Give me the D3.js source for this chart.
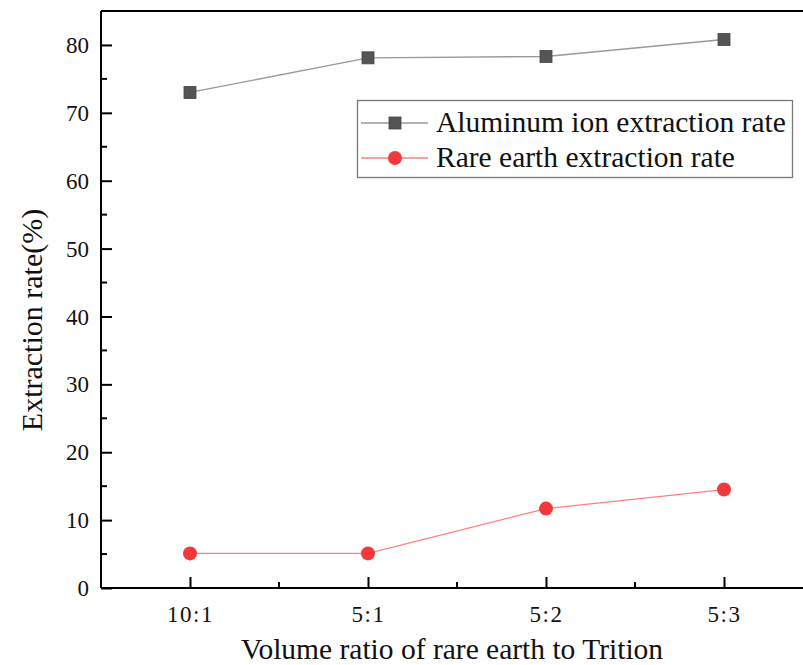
<!DOCTYPE html>
<html>
<head>
<meta charset="utf-8">
<script src="https://cdn.jsdelivr.net/npm/d3@7"></script>
<style>
  html, body { margin: 0; padding: 0; background: #fff; }
  svg { display: block; }
  text { font-family: "Liberation Serif", "DejaVu Serif", serif; fill: #111; }
</style>
</head>
<body>
<svg id="chart" width="803" height="665"></svg>
<script>
// Extraction rates for each volume ratio
const ratios = ["10:1", "5:1", "5:2", "5:3"];
const aluminumRate = [73.0, 78.1, 78.3, 80.8];
const rareEarthRate = [5.1, 5.1, 11.7, 14.5];
const yTicks = [0, 10, 20, 30, 40, 50, 60, 70, 80];
const seriesNames = ["Aluminum ion extraction rate", "Rare earth extraction rate"];

const serif = "'Liberation Serif', 'DejaVu Serif', serif";
const svg = d3.select("#chart");
const plotLeft = 101, plotTop = 11, plotBottom = 588, plotRight = 813;

const x = d3.scaleLinear().domain([0.5, 4.5]).range([plotLeft, plotRight]);
const y = d3.scaleLinear().domain([0, 85]).range([plotBottom, plotTop]);

// frame top line
svg.append("line")
  .attr("x1", plotLeft).attr("x2", 803).attr("y1", plotTop).attr("y2", plotTop)
  .attr("stroke", "#000").attr("stroke-width", 2);

// y axis
const yAxis = d3.axisRight(y).tickValues(yTicks).tickSize(11).tickFormat(d3.format("d"));
const gy = svg.append("g").attr("transform", `translate(${plotLeft},0)`).call(yAxis)
  .attr("font-family", serif).attr("font-size", 23);
gy.select(".domain").attr("stroke", "#000").attr("stroke-width", 2).attr("d", `M0,${plotBottom}V${plotTop}`);
gy.selectAll(".tick line").attr("stroke", "#000").attr("stroke-width", 2);
gy.selectAll(".tick text")
  .attr("x", -12).attr("dy", "0.33em").attr("text-anchor", "end")
  .style("font-family", serif).style("font-size", "23px");
const yMinor = d3.range(5, 85, 10);
svg.append("g").selectAll("line").data(yMinor).join("line")
  .attr("x1", plotLeft).attr("x2", plotLeft + 6)
  .attr("y1", d => y(d)).attr("y2", d => y(d))
  .attr("stroke", "#000").attr("stroke-width", 2);

// x axis
const xAxis = d3.axisTop(x).tickValues([1, 2, 3, 4]).tickSize(11).tickFormat((d, i) => ratios[i]);
const gx = svg.append("g").attr("transform", `translate(0,${plotBottom})`).call(xAxis)
  .attr("font-family", serif).attr("font-size", 23);
gx.select(".domain").attr("stroke", "#000").attr("stroke-width", 2).attr("d", `M${plotLeft},0H803`);
gx.selectAll(".tick line").attr("stroke", "#000").attr("stroke-width", 2);
gx.selectAll(".tick text")
  .attr("y", 34).attr("dy", "0").attr("text-anchor", "middle")
  .style("font-family", serif).style("font-size", "23px").style("letter-spacing", "1.5px");
svg.append("g").selectAll("line").data([1.5, 2.5, 3.5]).join("line")
  .attr("x1", d => x(d)).attr("x2", d => x(d))
  .attr("y1", plotBottom).attr("y2", plotBottom - 6)
  .attr("stroke", "#000").attr("stroke-width", 2);

// axis titles
svg.append("text")
  .attr("x", 452).attr("y", 659).attr("text-anchor", "middle")
  .style("font-size", "29.5px")
  .text("Volume ratio of rare earth to Trition");
svg.append("text")
  .attr("transform", "translate(42,320) rotate(-90)")
  .attr("text-anchor", "middle")
  .style("font-size", "30px")
  .text("Extraction rate(%)");

// series
const line = d3.line().x((d, i) => x(i + 1)).y(d => y(d));
svg.append("path").datum(aluminumRate).attr("d", line)
  .attr("fill", "none").attr("stroke", "#9a9a9a").attr("stroke-width", 1.3);
svg.append("path").datum(rareEarthRate).attr("d", line)
  .attr("fill", "none").attr("stroke", "#ff8080").attr("stroke-width", 1.3);

const sq = 12;
svg.append("g").selectAll("rect").data(aluminumRate).join("rect")
  .attr("x", (d, i) => x(i + 1) - sq / 2).attr("y", d => y(d) - sq / 2)
  .attr("width", sq).attr("height", sq)
  .attr("fill", "#555").attr("stroke", "#444").attr("stroke-width", 0.8);
svg.append("g").selectAll("circle").data(rareEarthRate).join("circle")
  .attr("cx", (d, i) => x(i + 1)).attr("cy", d => y(d)).attr("r", 7)
  .attr("fill", "#f2383c");

// legend
const lg = svg.append("g");
lg.append("rect").attr("x", 357.5).attr("y", 100.5).attr("width", 435).attr("height", 77)
  .attr("fill", "#fff").attr("stroke", "#777").attr("stroke-width", 1.3);
const rows = [
  { name: seriesNames[0], cy: 123, color: "#9a9a9a", mark: "square" },
  { name: seriesNames[1], cy: 158, color: "#ff8080", mark: "circle" }
];
rows.forEach(r => {
  lg.append("line").attr("x1", 361).attr("x2", 428).attr("y1", r.cy).attr("y2", r.cy)
    .attr("stroke", r.color).attr("stroke-width", 1.3);
  if (r.mark === "square") {
    lg.append("rect").attr("x", 395 - sq / 2).attr("y", r.cy - sq / 2)
      .attr("width", sq).attr("height", sq).attr("fill", "#555").attr("stroke", "#444").attr("stroke-width", 0.8);
  } else {
    lg.append("circle").attr("cx", 395).attr("cy", r.cy).attr("r", 7).attr("fill", "#f2383c");
  }
  lg.append("text").attr("x", 436).attr("y", r.cy + 9)
    .style("font-size", "29.5px").text(r.name);
});
</script>
</body>
</html>
